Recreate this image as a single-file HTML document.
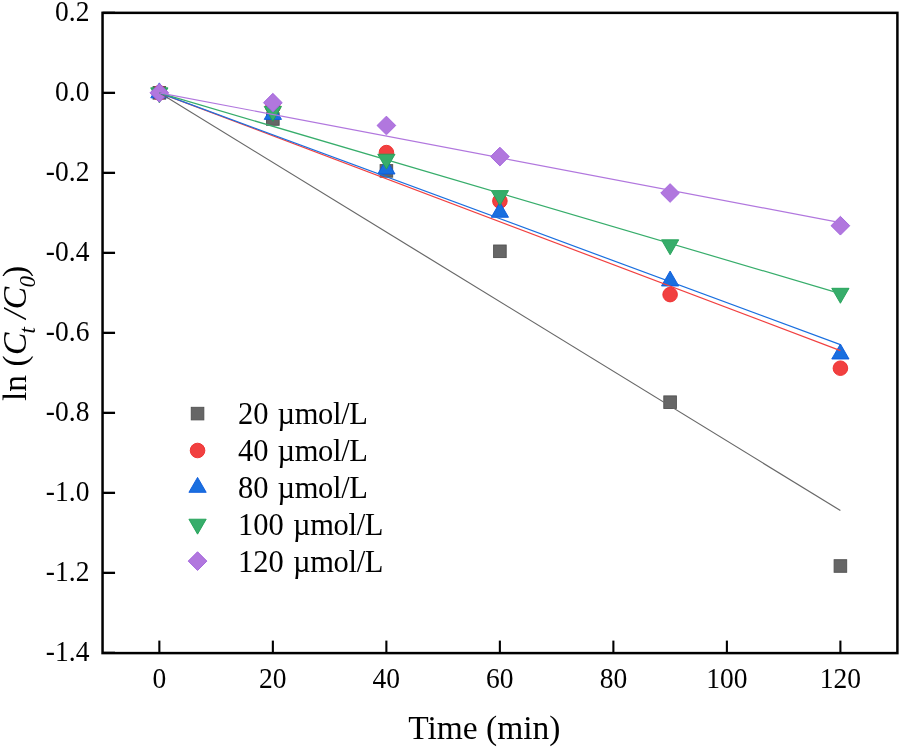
<!DOCTYPE html>
<html><head><meta charset="utf-8"><style>
html,body{margin:0;padding:0;background:#fff;}
svg{display:block;will-change:transform;}
text{font-family:"Liberation Serif", serif;fill:#000;}
</style></head><body>
<svg width="901" height="748" viewBox="0 0 901 748">
<rect width="901" height="748" fill="#fff"/>
<rect x="153.05" y="86.55" width="12.60" height="12.60" fill="#666666" stroke="#515151" stroke-width="0.9"/>
<rect x="266.55" y="112.70" width="12.60" height="12.60" fill="#666666" stroke="#515151" stroke-width="0.9"/>
<rect x="380.10" y="164.60" width="12.60" height="12.60" fill="#666666" stroke="#515151" stroke-width="0.9"/>
<rect x="493.60" y="245.00" width="12.60" height="12.60" fill="#666666" stroke="#515151" stroke-width="0.9"/>
<rect x="663.80" y="395.90" width="12.60" height="12.60" fill="#666666" stroke="#515151" stroke-width="0.9"/>
<rect x="834.10" y="559.70" width="12.60" height="12.60" fill="#666666" stroke="#515151" stroke-width="0.9"/>
<circle cx="159.35" cy="92.85" r="7.30" fill="#F14040" stroke="#EE2A2A" stroke-width="0.9"/>
<circle cx="272.85" cy="107.00" r="7.30" fill="#F14040" stroke="#EE2A2A" stroke-width="0.9"/>
<circle cx="386.40" cy="152.60" r="7.30" fill="#F14040" stroke="#EE2A2A" stroke-width="0.9"/>
<circle cx="499.90" cy="201.00" r="7.30" fill="#F14040" stroke="#EE2A2A" stroke-width="0.9"/>
<circle cx="670.10" cy="294.60" r="7.30" fill="#F14040" stroke="#EE2A2A" stroke-width="0.9"/>
<circle cx="840.40" cy="368.20" r="7.30" fill="#F14040" stroke="#EE2A2A" stroke-width="0.9"/>
<polygon points="159.35,82.88 167.98,97.84 150.72,97.84" fill="#1A6FDF" stroke="#0A5ADC" stroke-width="0.9" stroke-linejoin="miter"/>
<polygon points="272.85,104.43 281.49,119.39 264.22,119.39" fill="#1A6FDF" stroke="#0A5ADC" stroke-width="0.9" stroke-linejoin="miter"/>
<polygon points="386.40,159.03 395.03,173.99 377.76,173.99" fill="#1A6FDF" stroke="#0A5ADC" stroke-width="0.9" stroke-linejoin="miter"/>
<polygon points="499.90,202.33 508.53,217.29 491.26,217.29" fill="#1A6FDF" stroke="#0A5ADC" stroke-width="0.9" stroke-linejoin="miter"/>
<polygon points="670.10,271.03 678.74,285.99 661.47,285.99" fill="#1A6FDF" stroke="#0A5ADC" stroke-width="0.9" stroke-linejoin="miter"/>
<polygon points="840.40,344.03 849.03,358.99 831.76,358.99" fill="#1A6FDF" stroke="#0A5ADC" stroke-width="0.9" stroke-linejoin="miter"/>
<polygon points="159.35,102.82 167.98,87.86 150.72,87.86" fill="#37AD6B" stroke="#1FA055" stroke-width="0.9" stroke-linejoin="miter"/>
<polygon points="272.85,121.37 281.49,106.41 264.22,106.41" fill="#37AD6B" stroke="#1FA055" stroke-width="0.9" stroke-linejoin="miter"/>
<polygon points="386.40,169.17 395.03,154.21 377.76,154.21" fill="#37AD6B" stroke="#1FA055" stroke-width="0.9" stroke-linejoin="miter"/>
<polygon points="499.90,205.57 508.53,190.61 491.26,190.61" fill="#37AD6B" stroke="#1FA055" stroke-width="0.9" stroke-linejoin="miter"/>
<polygon points="670.10,254.77 678.74,239.81 661.47,239.81" fill="#37AD6B" stroke="#1FA055" stroke-width="0.9" stroke-linejoin="miter"/>
<polygon points="840.40,303.27 849.03,288.31 831.76,288.31" fill="#37AD6B" stroke="#1FA055" stroke-width="0.9" stroke-linejoin="miter"/>
<polygon points="159.35,83.48 168.72,92.85 159.35,102.22 149.98,92.85" fill="#B177DE" stroke="#A060DD" stroke-width="0.9"/>
<polygon points="272.85,93.33 282.22,102.70 272.85,112.07 263.48,102.70" fill="#B177DE" stroke="#A060DD" stroke-width="0.9"/>
<polygon points="386.40,116.13 395.77,125.50 386.40,134.87 377.03,125.50" fill="#B177DE" stroke="#A060DD" stroke-width="0.9"/>
<polygon points="499.90,147.18 509.27,156.55 499.90,165.92 490.53,156.55" fill="#B177DE" stroke="#A060DD" stroke-width="0.9"/>
<polygon points="670.10,183.63 679.47,193.00 670.10,202.37 660.73,193.00" fill="#B177DE" stroke="#A060DD" stroke-width="0.9"/>
<polygon points="840.40,216.33 849.77,225.70 840.40,235.07 831.03,225.70" fill="#B177DE" stroke="#A060DD" stroke-width="0.9"/>
<line x1="159.35" y1="92.85" x2="840.4" y2="510.5" stroke="#686868" stroke-width="1.2" stroke-linecap="butt"/>
<line x1="159.35" y1="92.85" x2="840.4" y2="350.6" stroke="#F14040" stroke-width="1.2" stroke-linecap="butt"/>
<line x1="159.35" y1="92.85" x2="840.4" y2="344.6" stroke="#1A6FDF" stroke-width="1.2" stroke-linecap="butt"/>
<line x1="159.35" y1="92.85" x2="840.4" y2="293.6" stroke="#37AD6B" stroke-width="1.2" stroke-linecap="butt"/>
<line x1="159.35" y1="92.85" x2="840.4" y2="222.6" stroke="#B177DE" stroke-width="1.2" stroke-linecap="butt"/>
<rect x="102.55" y="12.85" width="794.85" height="640.25" fill="none" stroke="#000" stroke-width="2.5"/>
<line x1="102.55" y1="12.85" x2="115.05" y2="12.85" stroke="#000" stroke-width="2.3"/>
<text transform="translate(89.4,20.95) scale(0.965,1)" text-anchor="end" font-size="28.5">0.2</text>
<line x1="102.55" y1="92.85" x2="115.05" y2="92.85" stroke="#000" stroke-width="2.3"/>
<text transform="translate(89.4,100.95) scale(0.965,1)" text-anchor="end" font-size="28.5">0.0</text>
<line x1="102.55" y1="172.85" x2="115.05" y2="172.85" stroke="#000" stroke-width="2.3"/>
<text transform="translate(89.4,180.95) scale(0.965,1)" text-anchor="end" font-size="28.5">-0.2</text>
<line x1="102.55" y1="252.85" x2="115.05" y2="252.85" stroke="#000" stroke-width="2.3"/>
<text transform="translate(89.4,260.95) scale(0.965,1)" text-anchor="end" font-size="28.5">-0.4</text>
<line x1="102.55" y1="332.85" x2="115.05" y2="332.85" stroke="#000" stroke-width="2.3"/>
<text transform="translate(89.4,340.95) scale(0.965,1)" text-anchor="end" font-size="28.5">-0.6</text>
<line x1="102.55" y1="412.85" x2="115.05" y2="412.85" stroke="#000" stroke-width="2.3"/>
<text transform="translate(89.4,420.95) scale(0.965,1)" text-anchor="end" font-size="28.5">-0.8</text>
<line x1="102.55" y1="492.85" x2="115.05" y2="492.85" stroke="#000" stroke-width="2.3"/>
<text transform="translate(89.4,500.95) scale(0.965,1)" text-anchor="end" font-size="28.5">-1.0</text>
<line x1="102.55" y1="572.85" x2="115.05" y2="572.85" stroke="#000" stroke-width="2.3"/>
<text transform="translate(89.4,580.95) scale(0.965,1)" text-anchor="end" font-size="28.5">-1.2</text>
<line x1="102.55" y1="652.85" x2="115.05" y2="652.85" stroke="#000" stroke-width="2.3"/>
<text transform="translate(89.4,660.95) scale(0.965,1)" text-anchor="end" font-size="28.5">-1.4</text>
<line x1="159.35" y1="653.1" x2="159.35" y2="640.6" stroke="#000" stroke-width="2.1"/>
<text transform="translate(159.35,687.6) scale(0.965,1)" text-anchor="middle" font-size="28.5">0</text>
<line x1="272.86" y1="653.1" x2="272.86" y2="640.6" stroke="#000" stroke-width="2.1"/>
<text transform="translate(272.86,687.6) scale(0.965,1)" text-anchor="middle" font-size="28.5">20</text>
<line x1="386.37" y1="653.1" x2="386.37" y2="640.6" stroke="#000" stroke-width="2.1"/>
<text transform="translate(386.37,687.6) scale(0.965,1)" text-anchor="middle" font-size="28.5">40</text>
<line x1="499.87" y1="653.1" x2="499.87" y2="640.6" stroke="#000" stroke-width="2.1"/>
<text transform="translate(499.87,687.6) scale(0.965,1)" text-anchor="middle" font-size="28.5">60</text>
<line x1="613.38" y1="653.1" x2="613.38" y2="640.6" stroke="#000" stroke-width="2.1"/>
<text transform="translate(613.38,687.6) scale(0.965,1)" text-anchor="middle" font-size="28.5">80</text>
<line x1="726.89" y1="653.1" x2="726.89" y2="640.6" stroke="#000" stroke-width="2.1"/>
<text transform="translate(726.89,687.6) scale(0.965,1)" text-anchor="middle" font-size="28.5">100</text>
<line x1="840.40" y1="653.1" x2="840.40" y2="640.6" stroke="#000" stroke-width="2.1"/>
<text transform="translate(840.40,687.6) scale(0.965,1)" text-anchor="middle" font-size="28.5">120</text>
<text x="408.2" y="739" font-size="33.5">Time (min)</text>
<text transform="translate(26.30,0) rotate(-90)" x="-401.10" y="0" font-size="33.5">ln</text>
<text transform="translate(26.30,0) rotate(-90)" x="-366.60" y="0" font-size="33.5">(</text>
<text transform="translate(26.30,0) rotate(-90)" x="-354.90" y="0" font-size="33.5" font-style="italic">C</text>
<text transform="translate(34.90,0) rotate(-90)" x="-333.50" y="0" font-size="23" font-style="italic">t</text>
<text transform="translate(26.30,0) rotate(-90)" x="-318.70" y="0" font-size="33.5" font-style="italic">/</text>
<text transform="translate(26.30,0) rotate(-90)" x="-309.30" y="0" font-size="33.5" font-style="italic">C</text>
<text transform="translate(34.90,0) rotate(-90)" x="-287.40" y="0" font-size="23" font-style="italic">0</text>
<text transform="translate(26.30,0) rotate(-90)" x="-277.00" y="0" font-size="33.5">)</text>
<rect x="191.25" y="407.30" width="12.60" height="12.60" fill="#666666" stroke="#515151" stroke-width="0.9"/>
<text x="237.9" y="424.10" font-size="30.5">20</text>
<text x="277.40" y="424.10" font-size="30.5" textLength="90.6" lengthAdjust="spacing">µmol/L</text>
<circle cx="197.55" cy="450.50" r="7.30" fill="#F14040" stroke="#EE2A2A" stroke-width="0.9"/>
<text x="237.9" y="461.00" font-size="30.5">40</text>
<text x="277.40" y="461.00" font-size="30.5" textLength="90.6" lengthAdjust="spacing">µmol/L</text>
<polygon points="197.55,477.38 206.19,492.34 188.92,492.34" fill="#1A6FDF" stroke="#0A5ADC" stroke-width="0.9" stroke-linejoin="miter"/>
<text x="237.9" y="497.85" font-size="30.5">80</text>
<text x="277.40" y="497.85" font-size="30.5" textLength="90.6" lengthAdjust="spacing">µmol/L</text>
<polygon points="197.55,534.17 206.19,519.21 188.92,519.21" fill="#37AD6B" stroke="#1FA055" stroke-width="0.9" stroke-linejoin="miter"/>
<text x="237.9" y="534.70" font-size="30.5">100</text>
<text x="292.90" y="534.70" font-size="30.5" textLength="90.6" lengthAdjust="spacing">µmol/L</text>
<polygon points="197.55,551.73 206.92,561.10 197.55,570.47 188.18,561.10" fill="#B177DE" stroke="#A060DD" stroke-width="0.9"/>
<text x="237.9" y="571.60" font-size="30.5">120</text>
<text x="292.90" y="571.60" font-size="30.5" textLength="90.6" lengthAdjust="spacing">µmol/L</text>
</svg></body></html>
